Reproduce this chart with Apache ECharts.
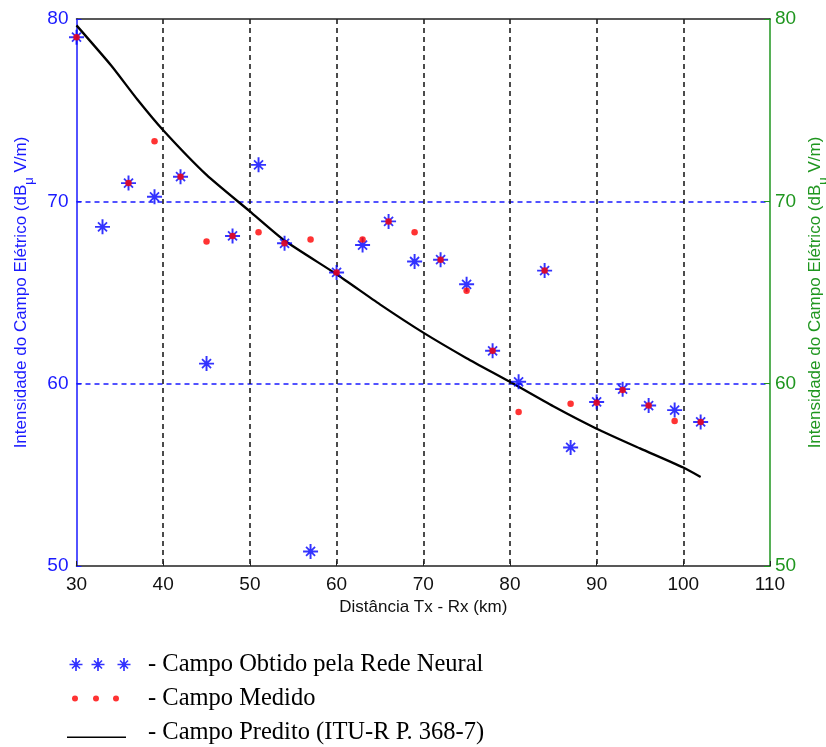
<!DOCTYPE html>
<html><head><meta charset="utf-8">
<script src="https://cdn.jsdelivr.net/npm/echarts@6/dist/echarts.min.js"></script>
<style>html,body{margin:0;padding:0;background:#fff}#c{width:826px;height:747px}</style>
</head><body><div id="c"></div>
<script>
// ---- data ----
const distances = [30,33,36,39,42,45,48,51,54,57,60,63,66,69,72,75,78,81,84,87,90,93,96,99,102];
const neuralField = [79.0,68.6,71.0,70.25,71.35,61.1,68.1,72.0,67.7,50.8,66.1,67.6,68.9,66.7,66.8,65.45,61.8,60.1,66.2,56.5,59.0,59.7,58.8,58.55,57.9];
const measuredField = [79.0,null,71.0,73.3,71.35,67.8,68.1,68.3,67.7,67.9,66.1,67.9,68.9,68.3,66.8,65.1,61.8,58.45,66.2,58.9,58.95,59.65,58.8,57.95,57.9];
const predictedDist = [30,34,37,40,45,50,54,60,65,70,75,80,85,90,95,100,102];
const predictedField = [79.65,77.45,75.6,73.9,71.45,69.45,67.85,66.0,64.35,62.8,61.4,60.1,58.76,57.53,56.45,55.4,54.88];
const seriesNames = ['Campo Obtido pela Rede Neural','Campo Medido','Campo Predito (ITU-R P. 368-7)'];
const xAxisTitle = 'Distância Tx - Rx (km)';
const yAxisTitle = ['Intensidade do Campo Elétrico (dB','μ',' V/m)'];

// ---- helpers (shapes only) ----
function asterisk(cx, cy, r, t, dr, td) {
  const d = dr, k = td * 0.707;
  let p = `M${cx-t} ${cy-r}L${cx+t} ${cy-r}L${cx+t} ${cy+r}L${cx-t} ${cy+r}Z`;
  p += `M${cx-r} ${cy-t}L${cx+r} ${cy-t}L${cx+r} ${cy+t}L${cx-r} ${cy+t}Z`;
  let sx=cx-d, sy=cy-d, ex=cx+d, ey=cy+d;
  p += `M${sx-k} ${sy+k}L${sx+k} ${sy-k}L${ex+k} ${ey-k}L${ex-k} ${ey+k}Z`;
  sx=cx+d; sy=cy-d; ex=cx-d; ey=cy+d;
  p += `M${sx-k} ${sy-k}L${sx+k} ${sy+k}L${ex+k} ${ey+k}L${ex-k} ${ey-k}Z`;
  return p;
}
function circle(cx, cy, r) {
  return `M${cx-r} ${cy}A${r} ${r} 0 1 0 ${cx+r} ${cy}A${r} ${r} 0 1 0 ${cx-r} ${cy}Z`;
}
const IW = 76, IH = 14;
const corners = `M0 0L0.001 0Z M${IW} ${IH}L${IW-0.001} ${IH}Z`;
const starSymbol = 'path://' + asterisk(50, 50, 50, 6.5, 30, 6);
const starIcon = 'path://' + corners + asterisk(9,7,6.5,0.85,4,0.8) + asterisk(31,7,6.5,0.85,4,0.8) + asterisk(57,7,6.5,0.85,4,0.8);
const dotIcon = 'path://' + corners + circle(8,7,3) + circle(29,7,3) + circle(49,7,3);
const lineIcon = 'path://' + corners + `M0 11L59 11L59 12.5L0 12.5Z`;

const BLUE = '#1a1aff', GREEN = '#1f961f', BLACK = '#000';
const nameRich = {
  a: { fontFamily: 'Liberation Sans', fontSize: 17, lineHeight: 22 },
  s: { fontFamily: 'Liberation Sans', fontSize: 13, verticalAlign: 'bottom', lineHeight: 13, padding: [0,0,-3,0] }
};
const yName = `{a|${yAxisTitle[0]}}{s|${yAxisTitle[1]}}{a|${yAxisTitle[2]}}`;

const chart = echarts.init(document.getElementById('c'), null, { renderer: 'canvas' });
chart.setOption({
  animation: false,
  backgroundColor: '#fff',
  grid: { left: 76.5, right: 56, top: 19, bottom: 181, outerBoundsMode: 'none', containLabel: false },
  xAxis: [{
    type: 'value', min: 30, max: 110, interval: 10,
    name: xAxisTitle, nameLocation: 'middle', nameGap: 33,
    nameTextStyle: { color: '#111', fontFamily: 'Liberation Sans', fontSize: 17 },
    axisLine: { lineStyle: { color: '#222', width: 1.5 } },
    axisTick: { inside: true, length: 5, lineStyle: { color: '#222' } },
    axisLabel: { color: '#111', fontFamily: 'Liberation Sans', fontSize: 19, margin: 9 },
    splitLine: { show: true, showMinLine: false, showMaxLine: false, lineStyle: { color: '#111', type: [5,4], width: 1.5 } }
  }, {
    type: 'value', position: 'top', min: 30, max: 110, interval: 10,
    axisLine: { show: true, onZero: false, lineStyle: { color: '#222', width: 1.5 } },
    axisTick: { show: false }, axisLabel: { show: false }, splitLine: { show: false }
  }],
  yAxis: [{
    type: 'value', min: 50, max: 80, interval: 10, position: 'left',
    name: yName, nameLocation: 'middle', nameGap: 44, nameRotate: 90,
    nameTextStyle: { color: BLUE, rich: nameRich },
    axisLine: { show: true, lineStyle: { color: BLUE, width: 1.5 } },
    axisTick: { show: true, inside: true, length: 5, lineStyle: { color: BLUE } },
    axisLabel: { color: BLUE, fontFamily: 'Liberation Sans', fontSize: 19, margin: 8 },
    splitLine: { show: true, showMinLine: false, showMaxLine: false, lineStyle: { color: BLUE, type: [5,4], width: 1.5 } }
  }, {
    type: 'value', min: 50, max: 80, interval: 10, position: 'right',
    name: yName, nameLocation: 'middle', nameGap: 34, nameRotate: 90,
    nameTextStyle: { color: GREEN, rich: nameRich },
    axisLine: { show: true, lineStyle: { color: GREEN, width: 1.5 } },
    axisTick: { show: true, inside: true, length: 6, lineStyle: { color: GREEN } },
    axisLabel: { color: GREEN, fontFamily: 'Liberation Sans', fontSize: 19, margin: 5 },
    splitLine: { show: false }
  }],
  legend: {
    orient: 'vertical', left: 67, top: 652, height: 95, padding: 0, itemGap: 9,
    itemWidth: IW, itemHeight: IH, selectedMode: false,
    formatter: n => '- ' + n,
    textStyle: { fontFamily: 'Liberation Serif', fontSize: 24.5, lineHeight: 25, color: '#000' },
    data: [
      { name: seriesNames[0], icon: starIcon },
      { name: seriesNames[1], icon: dotIcon },
      { name: seriesNames[2], icon: lineIcon }
    ]
  },
  series: [
    {
      name: seriesNames[2], type: 'line', smooth: 0.2, symbol: 'none',
      data: predictedDist.map((x, i) => [x, predictedField[i]]),
      lineStyle: { color: BLACK, width: 2.3 }, itemStyle: { color: BLACK }, z: 3
    },
    {
      name: seriesNames[0], type: 'scatter', symbol: starSymbol, symbolSize: 15,
      data: distances.map((x, i) => [x, neuralField[i]]),
      itemStyle: { color: '#0000ff' }, z: 4
    },
    {
      name: seriesNames[1], type: 'scatter', symbol: 'circle', symbolSize: 6.5,
      data: distances.map((x, i) => [x, measuredField[i]]).filter(p => p[1] != null),
      itemStyle: { color: '#ff0000' }, z: 5
    }
  ]
});
</script>
</body></html>
